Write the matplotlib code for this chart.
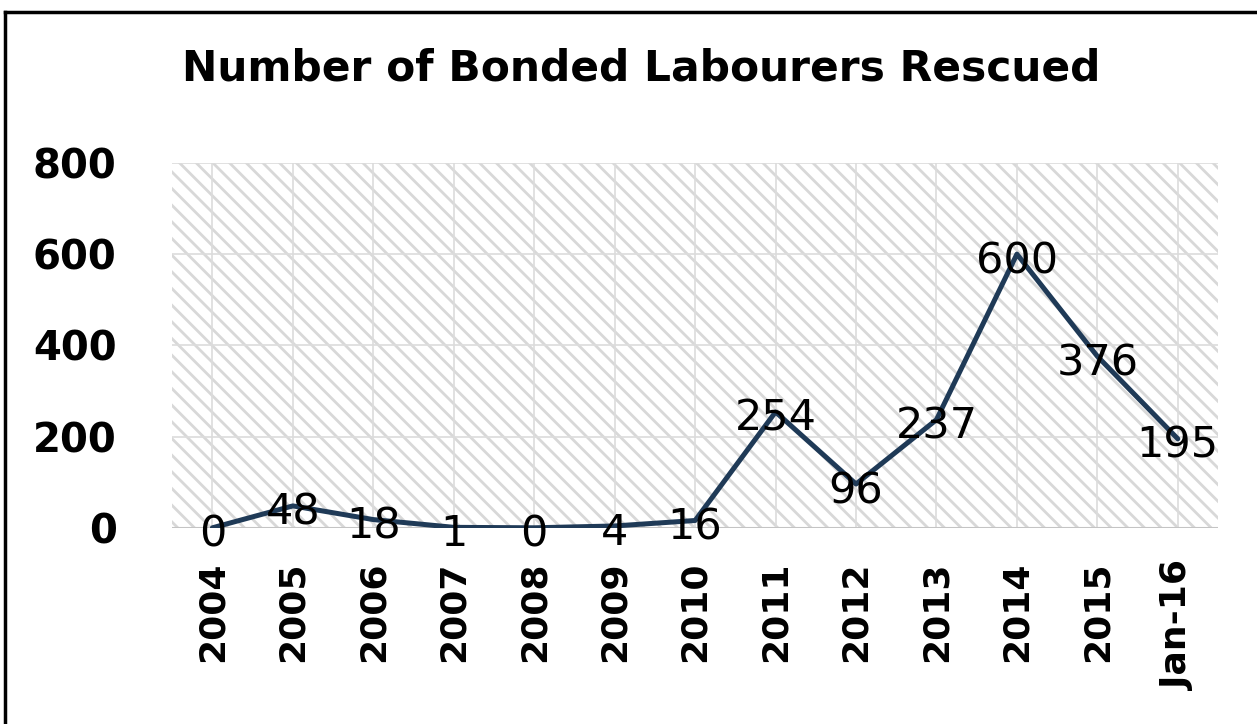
import numpy as np
import matplotlib
matplotlib.use("Agg")
import matplotlib.pyplot as plt
from matplotlib.lines import Line2D
from matplotlib.patches import Rectangle
from matplotlib.transforms import offset_copy

# rescues per year
years = ["2004", "2005", "2006", "2007", "2008", "2009", "2010",
         "2011", "2012", "2013", "2014", "2015", "Jan-16"]
rescued = [0, 48, 18, 1, 0, 4, 16, 254, 96, 237, 600, 376, 195]
y_ticks = [0, 200, 400, 600, 800]

line_color = "#1f3a57"
hatch_color = "#d8d8d8"
grid_color = "#dcdcdc"

plt.rcParams["font.family"] = "DejaVu Sans"
plt.rcParams["hatch.color"] = hatch_color
plt.rcParams["hatch.linewidth"] = 2.0

fig = plt.figure(figsize=(12.57, 7.24), dpi=100)
ax = fig.add_axes([0.137, 0.271, 0.832, 0.504])

x = np.arange(len(years))

# hatched plot area
ax.add_patch(Rectangle((0, 0), 1, 1, transform=ax.transAxes, facecolor="white",
                       edgecolor=hatch_color, hatch="\\\\", linewidth=0, zorder=0))

for yv in y_ticks[1:]:
  ax.axhline(yv, color=grid_color, linewidth=1.2, zorder=1)
for xv in x:
  ax.axvline(xv, color=grid_color, linewidth=1.2, zorder=1)
ax.axhline(0, color="#c4c4c4", linewidth=1.5, zorder=1)

ax.plot(x, rescued, color=line_color, linewidth=3.6, zorder=3,
        solid_joinstyle="round", solid_capstyle="round")

# value labels sit on the points, nudged a little down
lbl_trans = offset_copy(ax.transData, fig=fig, x=0, y=-7, units="dots")
for xi, v in zip(x, rescued):
  ax.text(xi, v, str(v), ha="center", va="center", fontsize=31,
          color="black", zorder=4, transform=lbl_trans)

ax.set_xlim(-0.5, len(years) - 0.5)
ax.set_ylim(0, 800)
ax.set_xticks(x)
ax.set_xticklabels(years, rotation=90, fontsize=26, fontweight="bold")
ax.set_yticks(y_ticks)
ax.set_yticklabels([str(t) for t in y_ticks], fontsize=29, fontweight="bold")
ax.tick_params(axis="both", length=0)
ax.tick_params(axis="y", pad=40)
ax.tick_params(axis="x", pad=24)
for s in ax.spines.values():
  s.set_visible(False)

fig.text(0.51, 0.905, "Number of Bonded Labourers Rescued", ha="center",
         va="center", fontsize=30.5, fontweight="bold")

# outer frame, top and left edges
fig.add_artist(Line2D([0.004, 1.0], [0.984, 0.984], color="black", linewidth=2.5))
fig.add_artist(Line2D([0.004, 0.004], [0.0, 0.984], color="black", linewidth=2.5))

fig.savefig("out.png", dpi=100)
